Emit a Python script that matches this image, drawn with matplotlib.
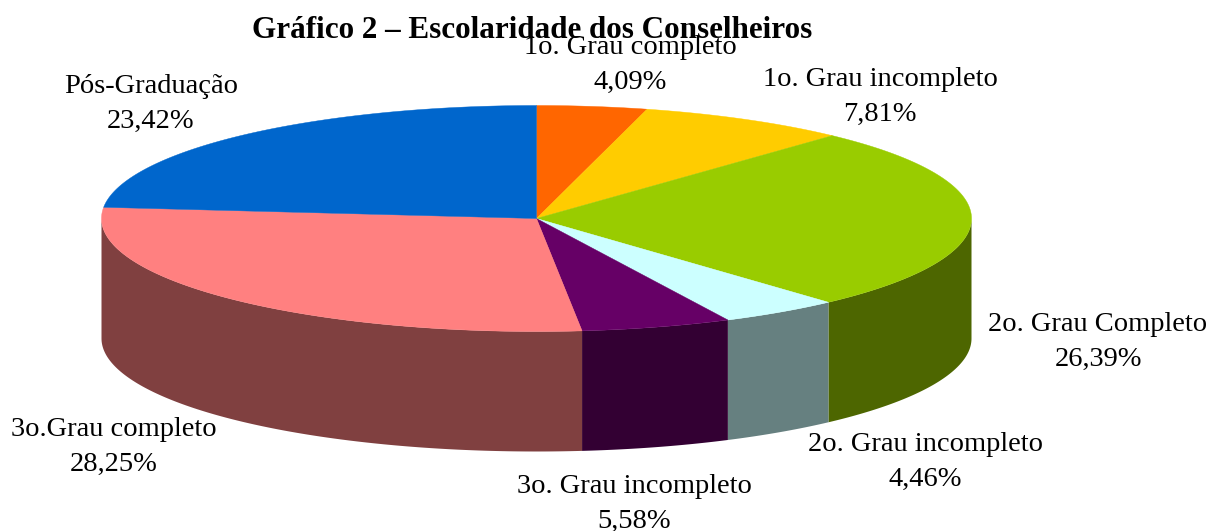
import numpy as np
import matplotlib
matplotlib.use("Agg")
import matplotlib.pyplot as plt
from matplotlib.patches import Polygon

categories = ["1o. Grau completo", "1o. Grau incompleto", "2o. Grau Completo",
              "2o. Grau incompleto", "3o. Grau incompleto", "3o.Grau completo",
              "Pós-Graduação"]
values = [4.09, 7.81, 26.39, 4.46, 5.58, 28.25, 23.42]
top_colors = ["#FF6600", "#FFCC00", "#99CC00", "#CCFFFF", "#660066", "#FF8080", "#0066CC"]
side_colors = ["#803300", "#806600", "#4D6600", "#668080", "#330033", "#804040", "#003366"]
title = "Gráfico 2 – Escolaridade dos Conselheiros"
label_centers = [(630, 65), (880, 97), (1098, 342), (925, 462), (634, 504), (114, 447), (151, 104)]

W, H = 1212, 531
cx, cy, rx, ry, depth = 536.5, 218.5, 435, 113, 120

plt.rcParams['font.family'] = ['Liberation Serif', 'DejaVu Serif']
fig = plt.figure(figsize=(W / 100, H / 100), dpi=100)
ax = fig.add_axes([0, 0, 1, 1])
ax.set_xlim(0, W)
ax.set_ylim(H, 0)
ax.axis("off")


def pt(theta):
    """theta measured clockwise from the top of the ellipse, radians."""
    return cx + rx * np.sin(theta), cy - ry * np.cos(theta)


edges = np.cumsum([0] + values) / sum(values) * 2 * np.pi

for i in range(len(values)):
    a, b = max(edges[i], np.pi / 2), min(edges[i + 1], 3 * np.pi / 2)
    if b > a:
        t = np.linspace(a, b, 120)
        x, y = pt(t)
        verts = np.r_[np.c_[x, y], np.c_[x[::-1], y[::-1] + depth]]
        ax.add_patch(Polygon(verts, closed=True, fc=side_colors[i], ec="none", zorder=2))

for i in range(len(values)):
    t = np.linspace(edges[i], edges[i + 1], 200)
    x, y = pt(t)
    verts = np.r_[[[cx, cy]], np.c_[x, y]]
    ax.add_patch(Polygon(verts, closed=True, fc=top_colors[i], ec=top_colors[i], lw=0.3, zorder=3))

fig.text(532 / W, 1 - 30 / H, title, ha="center", va="center", fontsize=22.4, fontweight="bold", color="black", zorder=5)
for name, v, (lx, ly) in zip(categories, values, label_centers):
    pct = f"{v:.2f}".replace(".", ",") + "%"
    ax.text(lx, ly, name + "\n" + pct, ha="center", va="center", fontsize=20.5, color="black", linespacing=1.54, zorder=6)

fig.savefig("out.png", dpi=100, facecolor="white")
